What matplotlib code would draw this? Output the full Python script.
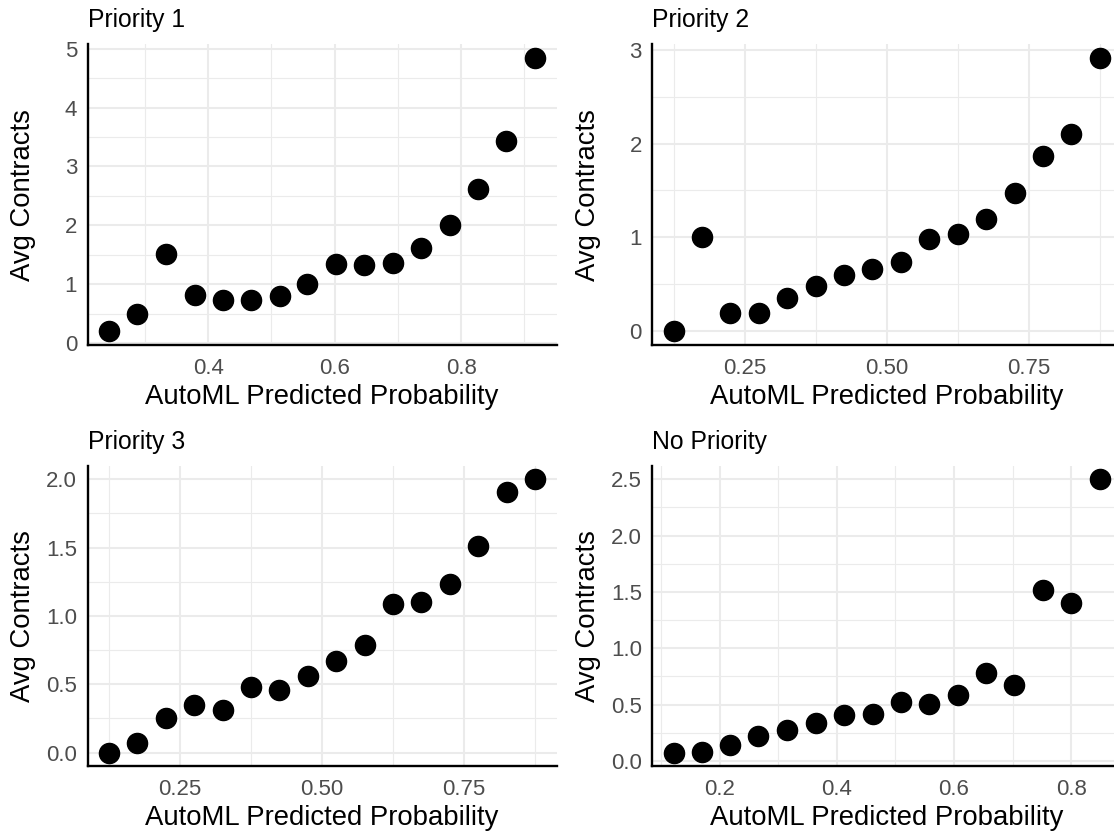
import numpy as np
import matplotlib
matplotlib.use('Agg')
import matplotlib.pyplot as plt

plt.rcParams['font.family'] = ['Liberation Sans', 'DejaVu Sans']

########################
# Binned calibration data
########################
titles = ['Priority 1', 'Priority 2', 'Priority 3', 'No Priority']

p1_x = [0.243, 0.288, 0.333, 0.379, 0.423, 0.468, 0.513, 0.557,
        0.602, 0.647, 0.692, 0.737, 0.782, 0.827, 0.871, 0.917]
p1_y = [0.20, 0.50, 1.51, 0.81, 0.73, 0.74, 0.80, 1.00,
        1.35, 1.32, 1.36, 1.62, 2.00, 2.61, 3.43, 4.84]

p2_x = [0.125, 0.175, 0.225, 0.275, 0.325, 0.375, 0.425, 0.475,
        0.525, 0.575, 0.625, 0.675, 0.725, 0.775, 0.825, 0.875]
p2_y = [0.00, 1.00, 0.20, 0.20, 0.35, 0.48, 0.60, 0.66,
        0.74, 0.98, 1.04, 1.20, 1.47, 1.865, 2.10, 2.91]

p3_x = [0.125, 0.175, 0.225, 0.275, 0.325, 0.375, 0.425, 0.475,
        0.525, 0.575, 0.625, 0.675, 0.725, 0.775, 0.825, 0.875]
p3_y = [0.00, 0.073, 0.25, 0.347, 0.31, 0.476, 0.46, 0.56,
        0.67, 0.79, 1.085, 1.10, 1.23, 1.51, 1.91, 2.00]

np_x = [0.121, 0.169, 0.218, 0.266, 0.315, 0.364, 0.412, 0.461,
        0.509, 0.558, 0.606, 0.655, 0.703, 0.752, 0.800, 0.849]
np_y = [0.075, 0.083, 0.146, 0.222, 0.273, 0.34, 0.41, 0.42,
        0.52, 0.505, 0.59, 0.785, 0.67, 1.52, 1.40, 2.50]

xs = [p1_x, p2_x, p3_x, np_x]
ys = [p1_y, p2_y, p3_y, np_y]

x_ticks = [[0.4, 0.6, 0.8], [0.25, 0.50, 0.75], [0.25, 0.50, 0.75], [0.2, 0.4, 0.6, 0.8]]
x_labels = [['0.4', '0.6', '0.8'], ['0.25', '0.50', '0.75'],
            ['0.25', '0.50', '0.75'], ['0.2', '0.4', '0.6', '0.8']]
y_ticks = [[0, 1, 2, 3, 4, 5], [0, 1, 2, 3], [0.0, 0.5, 1.0, 1.5, 2.0],
           [0.0, 0.5, 1.0, 1.5, 2.0, 2.5]]
y_labels = [['0', '1', '2', '3', '4', '5'], ['0', '1', '2', '3'],
            ['0.0', '0.5', '1.0', '1.5', '2.0'],
            ['0.0', '0.5', '1.0', '1.5', '2.0', '2.5']]


def minors(ticks):
    t = np.array(ticks, dtype=float)
    step = t[1] - t[0]
    return np.concatenate([[t[0] - step / 2], t + step / 2])


def expand(v, frac=0.05):
    lo, hi = min(v), max(v)
    pad = (hi - lo) * frac
    return lo - pad, hi + pad


###################
# Plot
###################
W, H = 1114, 831
fig = plt.figure(figsize=(W / 100, H / 100), dpi=100)

# panel boxes in pixels: left, top
boxes = [(87.5, 44.4), (652.2, 44.4), (87.5, 465.6), (652.2, 465.6)]
pw, ph = 469.0, 300.6

for i in range(4):
    left, top = boxes[i]
    ax = fig.add_axes([left / W, (H - top - ph) / H, pw / W, ph / H])
    ax.plot(xs[i], ys[i], 'o', color='black', markersize=14.5, zorder=3)

    ax.set_xticks(x_ticks[i])
    ax.set_xticklabels(x_labels[i])
    ax.set_yticks(y_ticks[i])
    ax.set_yticklabels(y_labels[i])
    ax.set_xticks(minors(x_ticks[i]), minor=True)
    ax.set_yticks(minors(y_ticks[i]), minor=True)
    ax.set_xlim(*expand(xs[i]))
    ax.set_ylim(*expand(ys[i]))

    ax.grid(which='major', color='#EBEBEB', linewidth=1.5)
    ax.grid(which='minor', color='#EBEBEB', linewidth=0.8)
    ax.set_axisbelow(True)

    for s in ['top', 'right']:
        ax.spines[s].set_visible(False)
    for s in ['left', 'bottom']:
        ax.spines[s].set_color('black')
        ax.spines[s].set_linewidth(1.7)

    ax.tick_params(which='both', length=0, labelsize=16, labelcolor='#4D4D4D')
    ax.tick_params(axis='x', pad=9)
    ax.tick_params(axis='y', pad=7.5)
    ax.set_xlabel('AutoML Predicted Probability', fontsize=19.8, labelpad=4)
    ax.set_ylabel('Avg Contracts', fontsize=19.8)
    ax.yaxis.set_label_coords(-0.11, 0.5)
    ax.set_title(titles[i], loc='left', fontsize=17.8, pad=12.3)

plt.savefig('out.png', dpi=100)
